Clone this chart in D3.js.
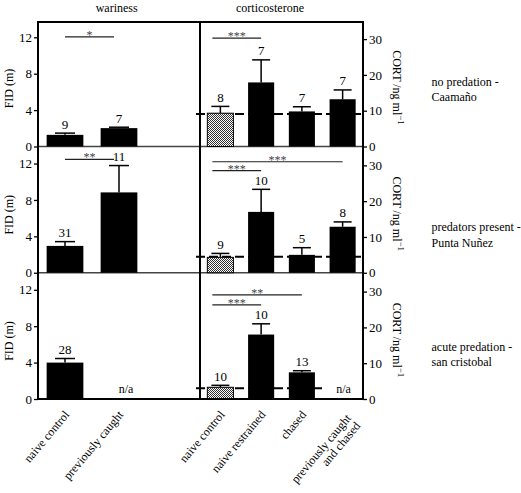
<!DOCTYPE html>
<html><head><meta charset="utf-8">
<script src="https://cdn.jsdelivr.net/npm/d3@7"></script>
<style>
body{margin:0;background:#fff}
svg text{font-family:"Liberation Serif","Times New Roman",serif !important;fill:#000}
</style>
</head><body><svg id="c" width="521" height="493"></svg>
<script>
// ---------- data ----------
const panelTitles = ["wariness", "corticosterone"];
const sites = [["no predation -", "Caamaño"], ["predators present -", "Punta Nuñez"], ["acute predation -", "san cristobal"]];
const fidCategories = ["naive control", "previously caught"];
const cortCategories = ["naive control", "naive restrained", "chased", "previously caught and chased"];
const fidMean = [[1.28, 2.02], [2.95, 8.83], [4.0, null]];
const fidSE = [[0.19, 0.10], [0.47, 2.95], [0.45, null]];
const fidN = [[9, 7], [31, 11], [28, null]];
const cortMean = [[9.3, 17.9, 9.8, 13.2], [4.3, 17.0, 5.0, 12.85], [3.27, 18.0, 7.45, null]];
const cortSE = [[1.9, 6.3, 1.3, 2.6], [1.1, 6.3, 2.0, 1.35], [0.55, 3.0, 0.45, null]];
const cortN = [[8, 7, 7, 7], [9, 10, 5, 8], [10, 10, 13, null]];
const cortBaseline = [9.1, 4.47, 3.0];
const fidTicks = [0, 4, 8, 12];
const cortTicks = [0, 10, 20, 30];
const fidSig = [[{from: 0, to: 1, label: "*", y: 12.05}], [{from: 0, to: 1, label: "**", y: 12.45}], []];
const cortSig = [
  [{from: 0, to: 1, label: "***", y: 30.3}],
  [{from: 0, to: 3, label: "***", y: 31.0}, {from: 0, to: 1, label: "***", y: 28.5}],
  [{from: 0, to: 2, label: "**", y: 29.1}, {from: 0, to: 1, label: "***", y: 26.3}]
];
const fidLabel = "FID (m)";

// ---------- layout ----------
const X0 = 38, XD = 200, X1 = 363, TOP = 22, ZERO0 = 146.5, PH = 126.25;
const svg = d3.select("#c");

const defs = svg.append("defs");
const pat = defs.append("pattern").attr("id", "stip").attr("width", 2).attr("height", 2)
  .attr("patternUnits", "userSpaceOnUse");
pat.append("rect").attr("width", 2).attr("height", 2).attr("fill", "#fff");
pat.append("rect").attr("width", 1).attr("height", 1).attr("fill", "#333");
pat.append("rect").attr("x", 1).attr("y", 1).attr("width", 1).attr("height", 1).attr("fill", "#333");

const xL = d3.scaleBand().domain(fidCategories).range([X0, X0 + 2 * (XD - X0) / 3])
  .paddingInner(0.32).paddingOuter(0.16);
const xR = d3.scaleBand().domain(cortCategories).range([XD, X1])
  .paddingInner(0.36).paddingOuter(0.18);

// titles
svg.append("text").attr("x", 116.7).attr("y", 12).attr("text-anchor", "middle")
  .style("font-size", "12px").text(panelTitles[0]);
svg.append("text").attr("x", 270).attr("y", 12).attr("text-anchor", "middle")
  .style("font-size", "12px").text(panelTitles[1]);

const siteLabelY = [85.5, 231, 350.5];

sites.forEach((site, i) => {
  const z = ZERO0 + i * PH;
  const yL = d3.scaleLinear().domain([0, PH / 9.1]).range([z, z - PH]);
  const yR = d3.scaleLinear().domain([0, PH / 3.58]).range([z, z - PH]);
  const g = svg.append("g");

  if (i < 2) {
    g.append("line").attr("x1", X0).attr("x2", X1).attr("y1", z).attr("y2", z)
      .attr("stroke", "#444").attr("stroke-width", 1.5);
  }

  const axL = g.append("g").attr("transform", `translate(${X0},0)`)
    .call(d3.axisLeft(yL).tickValues(fidTicks).tickSize(4).tickPadding(2));
  const axR = g.append("g").attr("transform", `translate(${X1},0)`)
    .call(d3.axisRight(yR).tickValues(cortTicks).tickSize(4).tickPadding(2));
  [axL, axR].forEach(a => {
    a.attr("font-family", null).attr("font-size", null);
    a.select(".domain").remove();
    a.selectAll("line").attr("stroke", "#000").attr("stroke-width", 1.3);
    a.selectAll("text").style("font-size", "13px");
  });

  // FID bars
  fidCategories.forEach((c, j) => {
    const m = fidMean[i][j];
    const cx = xL(c) + xL.bandwidth() / 2;
    if (m == null) {
      g.append("text").attr("x", cx + 7).attr("y", z - 6).attr("text-anchor", "middle")
        .style("font-size", "12px").text("n/a");
      return;
    }
    const top = yL(m + fidSE[i][j]);
    g.append("line").attr("x1", cx).attr("x2", cx).attr("y1", yL(m)).attr("y2", top)
      .attr("stroke", "#000").attr("stroke-width", 1.5);
    g.append("line").attr("x1", cx - 10).attr("x2", cx + 10).attr("y1", top).attr("y2", top)
      .attr("stroke", "#000").attr("stroke-width", 1.5);
    g.append("rect").attr("x", xL(c)).attr("width", xL.bandwidth())
      .attr("y", yL(m)).attr("height", z - yL(m)).attr("fill", "#000");
    g.append("text").attr("x", cx).attr("y", top - 4.5).attr("text-anchor", "middle")
      .style("font-size", "13px").text(fidN[i][j]);
  });

  // CORT baseline (dashed)
  const lastNull = cortMean[i][3] == null;
  g.append("line").attr("x1", XD - 4)
    .attr("x2", lastNull ? xR(cortCategories[3]) - 6 : X1 + 2)
    .attr("y1", yR(cortBaseline[i])).attr("y2", yR(cortBaseline[i]))
    .attr("stroke", "#000").attr("stroke-width", 2).attr("stroke-dasharray", "9,4");

  // CORT bars
  cortCategories.forEach((c, j) => {
    const m = cortMean[i][j];
    const cx = xR(c) + xR.bandwidth() / 2;
    if (m == null) {
      g.append("text").attr("x", cx + 1).attr("y", z - 6).attr("text-anchor", "middle")
        .style("font-size", "12px").text("n/a");
      return;
    }
    const top = yR(m + cortSE[i][j]);
    g.append("line").attr("x1", cx).attr("x2", cx).attr("y1", yR(m)).attr("y2", top)
      .attr("stroke", "#000").attr("stroke-width", 1.5);
    g.append("line").attr("x1", cx - 9).attr("x2", cx + 9).attr("y1", top).attr("y2", top)
      .attr("stroke", "#000").attr("stroke-width", 1.5);
    g.append("rect").attr("x", xR(c)).attr("width", xR.bandwidth())
      .attr("y", yR(m)).attr("height", z - yR(m))
      .attr("fill", j === 0 ? "url(#stip)" : "#000")
      .attr("stroke", "#000").attr("stroke-width", j === 0 ? 1 : 0);
    g.append("text").attr("x", cx).attr("y", top - 4.5).attr("text-anchor", "middle")
      .style("font-size", "13px").text(cortN[i][j]);
  });

  // significance
  function sig(xa, xb, yy, label) {
    g.append("line").attr("x1", xa).attr("x2", xb).attr("y1", yy).attr("y2", yy)
      .attr("stroke", "#222").attr("stroke-width", 1.2);
    g.append("text").attr("x", (xa + xb) / 2).attr("y", yy + 2).attr("text-anchor", "middle")
      .style("font-size", "12px").style("fill", "#444").text(label);
  }
  fidSig[i].forEach(s => sig(
    xL(fidCategories[s.from]) + xL.bandwidth() / 2,
    xL(fidCategories[s.to]) + xL.bandwidth() / 2 - 5, yL(s.y), s.label));
  cortSig[i].forEach(s => sig(
    xR(cortCategories[s.from]) + xR.bandwidth() / 2 - 8,
    xR(cortCategories[s.to]) + xR.bandwidth() / 2, yR(s.y), s.label));

  // axis labels
  g.append("text").attr("transform", `translate(13,${z - 58}) rotate(-90)`)
    .attr("text-anchor", "middle").style("font-size", "12px").text(fidLabel);
  const ct = g.append("text").attr("transform", `translate(393,${z - 59}) rotate(90)`)
    .attr("text-anchor", "middle").style("font-size", "12px");
  ct.append("tspan").text("CORT /ng ml");
  ct.append("tspan").attr("dy", -5).style("font-size", "9px").text("−1");

  // site label
  const st = g.append("text").attr("x", 431.5).attr("y", siteLabelY[i]).style("font-size", "12px");
  site.forEach((line, k) => st.append("tspan").attr("x", 431.5).attr("dy", k ? 15.5 : 0).text(line));
});

// frame
const frame = svg.append("g").attr("stroke", "#000").attr("stroke-width", 2).attr("fill", "none");
const zb = ZERO0 + 2 * PH;
frame.append("line").attr("x1", X0).attr("x2", X0).attr("y1", TOP).attr("y2", zb + 1);
frame.append("line").attr("x1", XD).attr("x2", XD).attr("y1", TOP).attr("y2", zb + 1);
frame.append("line").attr("x1", X1).attr("x2", X1).attr("y1", TOP).attr("y2", zb + 1);
frame.append("line").attr("x1", X0 - 1).attr("x2", X1 + 1).attr("y1", TOP).attr("y2", TOP);
frame.append("line").attr("x1", X0 - 1).attr("x2", X1 + 1).attr("y1", zb).attr("y2", zb);

// x labels
function xLabel(x, lines) {
  const t = svg.append("text").attr("transform", `translate(${x + 5},415) rotate(-50)`)
    .attr("text-anchor", "end").style("font-size", "12px");
  lines.forEach((l, k) => t.append("tspan").attr("x", 0)
    .attr("dy", k === 0 ? (lines.length > 1 ? "0.45em" : 0) : "1em").text(l));
}
fidCategories.forEach(c => xLabel(xL(c) + xL.bandwidth() / 2, [c]));
cortCategories.forEach(c => {
  const lines = c === "previously caught and chased" ? ["previously caught", "and chased"] : [c];
  xLabel(xR(c) + xR.bandwidth() / 2, lines);
});
</script>
</body></html>
